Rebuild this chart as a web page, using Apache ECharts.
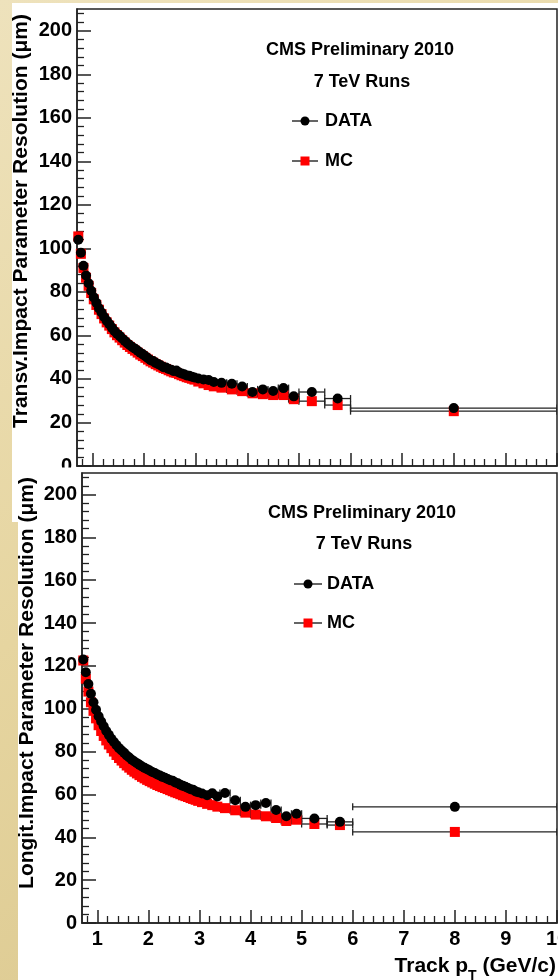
<!DOCTYPE html>
<html>
<head>
<meta charset="utf-8">
<script src="https://cdn.jsdelivr.net/npm/echarts@6/dist/echarts.min.js"></script>
<style>html,body{margin:0;padding:0;background:#E8D8A4;}#c{width:558px;height:980px;}</style>
</head>
<body>
<div id="c"></div>
<script>
// ---- data ----
const ptCenter = [0.725,0.775,0.825,0.875,0.925,0.975,1.025,1.075,1.125,1.175,1.225,1.275,1.325,1.375,1.425,1.475,1.525,1.575,1.625,1.675,1.725,1.775,1.825,1.875,1.925,1.975,2.025,2.075,2.125,2.175,2.225,2.275,2.325,2.375,2.425,2.475,2.525,2.575,2.625,2.675,2.725,2.775,2.825,2.875,2.925,2.975,
  3.05,3.15,3.25,3.35,3.5,3.7,3.9,4.1,4.3,4.5,4.7,4.9,5.25,5.75,8.0];
const ptHalfWidth = [0.025,0.025,0.025,0.025,0.025,0.025,0.025,0.025,0.025,0.025,0.025,0.025,0.025,0.025,0.025,0.025,0.025,0.025,0.025,0.025,0.025,0.025,0.025,0.025,0.025,0.025,0.025,0.025,0.025,0.025,0.025,0.025,0.025,0.025,0.025,0.025,0.025,0.025,0.025,0.025,0.025,0.025,0.025,0.025,0.025,0.025,
  0.05,0.05,0.05,0.05,0.1,0.1,0.1,0.1,0.1,0.1,0.1,0.1,0.25,0.25,2.0];
const transvData = [104,98,92,87.5,84,80.5,77.5,75,72.5,70.5,68.5,66.8,65.2,63.6,62,60.8,59.8,58.6,57.5,56.4,55.5,54.6,53.9,53,52,51.3,50.4,49.5,48.6,48.2,47.4,46.8,46.2,45.4,45.3,44.6,44.2,43.6,43.9,43,42.5,42.2,41.6,41.5,41,40.7,
  40.2,39.8,39.5,38.6,38.2,37.8,36.5,34,35.2,34.5,35.8,32,34,31,26.6];
const transvMC = [105.5,97.5,91,86.5,82.8,79.5,76.6,74,71.8,69.8,67.8,66,64.5,62.9,61.4,60.1,59,57.8,56.7,55.6,54.7,53.8,53,52.1,51.2,50.5,49.7,48.9,48.1,47.5,46.8,46.2,45.6,45,44.6,44,43.5,43,42.8,42.2,41.7,41.3,40.8,40.5,40.1,39.7,
  38.8,38,37.2,36.6,36,35.2,34.4,33.4,33,32.6,32.6,30.7,29.8,28,25.2];
const longitData = [123,117,111.5,107,103,99.5,96.5,94,91.8,89.6,87.8,86,84.5,83,81.6,80.5,79.4,78.2,77.2,76.2,75.4,74.6,73.8,73,72.4,71.8,71.2,70.5,70,69.3,68.8,68.2,67.8,67.2,66.6,66.4,65.6,65.2,64.5,64,63.6,63,62.4,62.2,61.4,61,
  60.4,59.6,60.5,59,60.7,57.3,54.2,55,56,52.7,49.8,51,48.8,47.2,54.2];
const longitMC = [122.5,114,108,103,99,95.5,92.3,89.6,87.3,85.2,83.3,81.6,80,78.4,77,75.8,74.6,73.5,72.5,71.5,70.6,69.8,69,68.2,67.5,66.8,66.2,65.6,65,64.4,63.9,63.4,63,62.5,62,61.5,61,60.6,60.1,59.6,59.2,58.8,58.3,57.9,57.5,57,
  56.4,55.6,55,54.3,53.6,52.6,51.5,50.6,49.8,49,47.6,48.2,46.2,45.7,42.5];
const xTickValues = [1,2,3,4,5,6,7,8,9,10];
const yTickValues = [0,20,40,60,80,100,120,140,160,180,200];

// minor tick positions (axis structure)
const xMinor = [0.8];
for (let n = 1; n < 10; n++) { for (let k = 1; k <= 4; k++) xMinor.push(+(n + 0.2 * k).toFixed(1)); }
const yMinor = [];
for (let v = 4; v <= 208; v += 4) { if (v % 20 !== 0) yMinor.push(v); }

const FONT = '"Liberation Sans", Arial, Helvetica, sans-serif';
const AX = '#222';

function pts(ys) { return ptCenter.map((x, i) => [x, ys[i], ptHalfWidth[i]]); }

function errRender(params, api) {
  const x = api.value(0), y = api.value(1), e = api.value(2);
  const p1 = api.coord([x - e, y]);
  const p2 = api.coord([x + e, y]);
  const c = 3.5;
  const st = { stroke: '#222', lineWidth: 1.3 };
  return {
    type: 'group',
    children: [
      { type: 'line', shape: { x1: p1[0], y1: p1[1], x2: p2[0], y2: p2[1] }, style: st },
      { type: 'line', shape: { x1: p1[0], y1: p1[1] - c, x2: p1[0], y2: p1[1] + c }, style: st },
      { type: 'line', shape: { x1: p2[0], y1: p2[1] - c, x2: p2[0], y2: p2[1] + c }, style: st }
    ]
  };
}

function xMajor(gi, showLabel, z) {
  return {
    type: 'value', gridIndex: gi, min: 0.7, max: 10, position: 'bottom', z: z,
    axisLine: { show: true, onZero: false, lineStyle: { color: AX, width: 1.5 } },
    axisTick: { show: true, inside: true, length: 13, customValues: xTickValues, lineStyle: { color: AX, width: 1.5 } },
    axisLabel: { show: showLabel, customValues: xTickValues, margin: 6, color: '#000', fontSize: 20, fontWeight: 'bold', fontFamily: FONT },
    splitLine: { show: false }
  };
}
function xMinorAx(gi, z) {
  return {
    type: 'value', gridIndex: gi, min: 0.7, max: 10, position: 'bottom', z: z,
    axisLine: { show: false },
    axisTick: { show: true, inside: true, length: 7, customValues: xMinor, lineStyle: { color: AX, width: 1.3 } },
    axisLabel: { show: false },
    splitLine: { show: false }
  };
}
function yMajor(gi, z) {
  return {
    type: 'value', gridIndex: gi, min: 0, max: 210, position: 'left', z: z,
    axisLine: { show: true, onZero: false, lineStyle: { color: AX, width: 1.5 } },
    axisTick: { show: true, inside: true, length: 14, customValues: yTickValues, lineStyle: { color: AX, width: 1.5 } },
    axisLabel: { show: true, customValues: yTickValues, margin: 5, color: '#000', fontSize: 20, fontWeight: 'bold', fontFamily: FONT },
    splitLine: { show: false }
  };
}
function yMinorAx(gi, z) {
  return {
    type: 'value', gridIndex: gi, min: 0, max: 210, position: 'left', z: z,
    axisLine: { show: false },
    axisTick: { show: true, inside: true, length: 7, customValues: yMinor, lineStyle: { color: AX, width: 1.3 } },
    axisLabel: { show: false },
    splitLine: { show: false }
  };
}

// text measuring for the subscripted axis title
const mctx = document.createElement('canvas').getContext('2d');
function tw(txt, size) { mctx.font = 'bold ' + size + 'px ' + FONT; return mctx.measureText(txt).width; }
const xtRight = 556;
const wTail = tw(' (GeV/c)', 21);
const wSub = tw('T', 14);

function txt(text, x, y, size, align, extra) {
  return Object.assign({
    type: 'text', x: x, y: y, z: 20,
    style: { text: text, fill: '#000', fontSize: size, fontWeight: 'bold', fontFamily: FONT, textAlign: align, textVerticalAlign: 'middle' }
  }, extra || {});
}
function legendItems(lx1, lx2, mx, tx, yD, yM) {
  return [
    { type: 'line', z: 20, shape: { x1: lx1, y1: yD, x2: lx2, y2: yD }, style: { stroke: '#111', lineWidth: 1.3 } },
    { type: 'circle', z: 21, shape: { cx: mx, cy: yD, r: 4.5 }, style: { fill: '#000' } },
    txt('DATA', tx, yD, 18, 'left'),
    { type: 'line', z: 20, shape: { x1: lx1, y1: yM, x2: lx2, y2: yM }, style: { stroke: '#111', lineWidth: 1.3 } },
    { type: 'rect', z: 21, shape: { x: mx - 4.5, y: yM - 4.5, width: 9, height: 9 }, style: { fill: '#ff0000' } },
    txt('MC', tx, yM, 18, 'left')
  ];
}

const chart = echarts.init(document.getElementById('c'), null, { renderer: 'canvas' });
chart.setOption({
  animation: false,
  backgroundColor: 'transparent',
  grid: [
    { left: 77, right: 1, top: 9, bottom: 514, show: true, borderColor: AX, borderWidth: 1.5, backgroundColor: 'transparent', z: 2, containLabel: false, outerBoundsMode: 'none' },
    { left: 82, right: 1, top: 473, bottom: 57, show: true, borderColor: AX, borderWidth: 1.5, backgroundColor: 'transparent', z: 4, containLabel: false, outerBoundsMode: 'none' }
  ],
  xAxis: [xMajor(0, false, 2), xMinorAx(0, 2), xMajor(1, true, 4), xMinorAx(1, 4)],
  yAxis: [yMajor(0, 2), yMinorAx(0, 2), yMajor(1, 4), yMinorAx(1, 4)],
  graphic: {
    elements: [
      { type: 'rect', z: 0, shape: { x: 0, y: 0, width: 558, height: 980 },
        style: { fill: new echarts.graphic.LinearGradient(0, 0, 1, 1, [
          { offset: 0, color: '#EEE2BC' }, { offset: 0.5, color: '#E6D5A0' }, { offset: 1, color: '#D9C68C' }]) } },
      { type: 'rect', z: 1, shape: { x: 12, y: 3, width: 546, height: 519 }, style: { fill: '#ffffff' } },
      { type: 'rect', z: 3, shape: { x: 18, y: 467.5, width: 540, height: 513 }, style: { fill: '#ffffff' } },
      // panel annotations
      txt('CMS Preliminary 2010', 360, 50, 18, 'center'),
      txt('7 TeV Runs', 362, 82, 18, 'center'),
      txt('CMS Preliminary 2010', 362, 513, 18, 'center'),
      txt('7 TeV Runs', 364, 544, 18, 'center'),
      ...legendItems(292, 318, 305, 325, 121, 161),
      ...legendItems(294, 322, 308, 327, 584, 623),
      // axis titles
      txt('Transv.Impact Parameter Resolution (\u03bcm)', 21, 221, 21, 'center', { rotation: Math.PI / 2 }),
      txt('Longit.Impact Parameter Resolution (\u03bcm)', 27, 683, 21, 'center', { rotation: Math.PI / 2 }),
      txt(' (GeV/c)', xtRight, 966, 21, 'right'),
      txt('T', xtRight - wTail, 976, 14, 'right'),
      txt('Track p', xtRight - wTail - wSub, 966, 21, 'right')
    ]
  },
  series: [
    { name: 'errTransvMC', type: 'custom', xAxisIndex: 0, yAxisIndex: 0, z: 5, clip: true, renderItem: errRender, data: pts(transvMC) },
    { name: 'errTransvData', type: 'custom', xAxisIndex: 0, yAxisIndex: 0, z: 5, clip: true, renderItem: errRender, data: pts(transvData) },
    { name: 'MC', type: 'scatter', xAxisIndex: 0, yAxisIndex: 0, z: 6, symbol: 'rect', symbolSize: 10, itemStyle: { color: '#ff0000', opacity: 1 }, data: pts(transvMC) },
    { name: 'DATA', type: 'scatter', xAxisIndex: 0, yAxisIndex: 0, z: 7, symbol: 'circle', symbolSize: 10, itemStyle: { color: '#000', opacity: 1 }, data: pts(transvData) },
    { name: 'errLongitMC', type: 'custom', xAxisIndex: 2, yAxisIndex: 2, z: 5, clip: true, renderItem: errRender, data: pts(longitMC) },
    { name: 'errLongitData', type: 'custom', xAxisIndex: 2, yAxisIndex: 2, z: 5, clip: true, renderItem: errRender, data: pts(longitData) },
    { name: 'MC ', type: 'scatter', xAxisIndex: 2, yAxisIndex: 2, z: 6, symbol: 'rect', symbolSize: 10, itemStyle: { color: '#ff0000', opacity: 1 }, data: pts(longitMC) },
    { name: 'DATA ', type: 'scatter', xAxisIndex: 2, yAxisIndex: 2, z: 7, symbol: 'circle', symbolSize: 10, itemStyle: { color: '#000', opacity: 1 }, data: pts(longitData) }
  ]
});
</script>
</body>
</html>
